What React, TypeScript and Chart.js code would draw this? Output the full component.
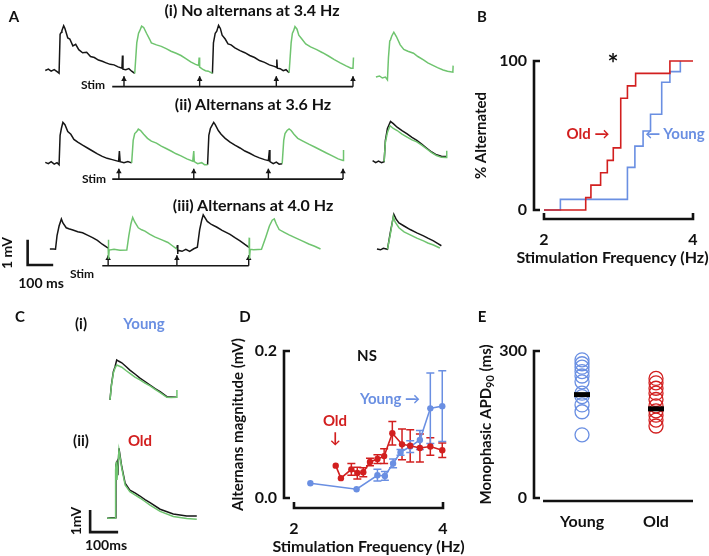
import React, { useEffect, useRef } from "react";
import { Chart, registerables } from "chart.js";
Chart.register(...registerables);

// ---------------- Panel A: monophasic traces (time ms, potential mV) ----------------
const A1_BLACK_1 = [[0,-0.01],[12,0.04],[23,-0.04],[35,0.02],[46,-0.06],[54,-0.12],[58,1.42],[63,1.5],[65,1.56],[72,1.76],[77,1.65],[88,1.27],[96,1.23],[108,0.96],[119,1.02],[131,0.81],[146,0.69],[162,0.71],[177,0.54],[192,0.5],[208,0.4],[223,0.35],[238,0.29],[254,0.23],[269,0.21],[285,0.13],[300,0.08],[302,0.58],[304,0.04],[315,0.02],[327,0.06],[338,-0.04],[350,-0.13]];
const A1_GREEN_1 = [[350,-0.13],[358,1.08],[365,1.46],[369,1.54],[377,1.74],[385,1.69],[396,1.46],[408,1.23],[415,1.08],[435,1.0],[454,0.94],[473,0.85],[492,0.75],[512,0.67],[531,0.58],[550,0.46],[569,0.33],[588,0.23],[600,0.19],[602,0.5],[604,0.12],[615,0.04],[627,-0.02],[638,-0.04],[654,-0.13]];
const A1_BLACK_2 = [[654,-0.13],[658,1.08],[665,1.46],[671,1.54],[678,1.77],[685,1.65],[692,1.38],[704,1.23],[715,1.04],[727,1.0],[742,0.88],[762,0.77],[781,0.69],[800,0.58],[819,0.5],[838,0.38],[858,0.31],[877,0.21],[896,0.15],[904,0.12],[906,0.42],[908,0.08],[919,0.06],[931,-0.02],[942,0.02],[954,-0.1]];
const A1_GREEN_2 = [[954,-0.1],[962,1.08],[967,1.46],[971,1.54],[977,1.72],[985,1.62],[992,1.38],[1004,1.23],[1019,1.04],[1038,0.92],[1062,0.81],[1085,0.69],[1108,0.56],[1131,0.42],[1154,0.29],[1177,0.17],[1196,0.08],[1204,0.08],[1206,0.5]];
const A1_STIM = [308, 604, 904, 1204];
const A1_STIM_START = 262;

const A2_BLACK_1 = [[0,0.01],[12,-0.04],[23,0.04],[35,-0.06],[46,0],[54,-0.08],[58,1.08],[63,1.35],[69,1.59],[77,1.5],[88,1.23],[100,1.12],[112,0.92],[127,0.81],[146,0.69],[165,0.58],[185,0.46],[204,0.35],[223,0.25],[242,0.17],[262,0.12],[287,0.05],[290,0.46],[293,0.04],[308,0],[323,0.04],[338,-0.01]];
const A2_GREEN_1 = [[338,-0.01],[344,0.88],[350,1.15],[358,1.23],[364,1.33],[373,1.27],[385,1.12],[400,0.96],[415,0.85],[435,0.77],[454,0.65],[473,0.56],[492,0.46],[512,0.35],[531,0.27],[554,0.15],[577,0.06],[581,0.46],[583,0.04],[596,-0.04],[612,0],[623,-0.08],[635,-0.08]];
const A2_BLACK_2 = [[635,-0.08],[640,1.08],[646,1.35],[652,1.46],[659,1.59],[665,1.5],[677,1.27],[688,1.12],[704,0.96],[723,0.81],[742,0.69],[762,0.58],[781,0.46],[800,0.37],[819,0.27],[838,0.19],[858,0.12],[873,0.08],[877,0.5],[879,0.04],[892,-0.04],[904,0.02],[915,-0.06],[927,-0.04]];
const A2_GREEN_2 = [[927,-0.04],[933,0.88],[938,1.15],[946,1.27],[954,1.33],[962,1.27],[973,1.12],[988,0.96],[1008,0.85],[1031,0.73],[1054,0.62],[1077,0.5],[1100,0.38],[1123,0.27],[1146,0.15],[1165,0.09],[1167,0.5]];
const A2_STIM = [288, 581, 873, 1165];
const A2_STIM_START = 262;

const A3_BLACK_1 = [[18,0.01],[31,0.01],[40,0],[46,0.54],[54,0.92],[63,1.2],[69,1.04],[82,0.85],[92,0.81],[108,0.76],[127,0.69],[146,0.65],[165,0.56],[185,0.46],[204,0.35],[223,0.2],[246,0.05]];
const A3_GREEN_1 = [[246,0.05],[247,0.38],[248,-0.38],[250,-0.03],[269,0],[292,-0.04],[319,-0.03],[327,0.54],[335,1.0],[342,1.26],[350,1.08],[364,0.85],[377,0.77],[390,0.72],[408,0.6],[428,0.49],[454,0.38],[480,0.27],[496,0.15],[515,0.01]];
const A3_BLACK_2 = [[515,0.01],[517,0.17],[518,-0.19],[519,-0.04],[535,-0.08],[550,0],[565,-0.08],[581,0.02],[595,0.08],[604,0.77],[612,1.15],[618,1.36],[634,1.1],[650,0.98],[672,0.87],[692,0.75],[723,0.59],[742,0.46],[762,0.33],[781,0.19],[797,0.08]];
const A3_GREEN_2 = [[797,0.08],[798,0.46],[799,-0.38],[802,0],[815,-0.02],[832,-0.01],[846,0],[862,0.46],[877,0.92],[888,1.15],[896,1.2],[904,1.0],[915,0.78],[935,0.67],[954,0.57],[977,0.46],[1005,0.33],[1031,0.21],[1054,0.12],[1077,0.01]];
const A3_STIM = [246, 515, 796];
const A3_STIM_START = 223;

// superimposed insets (time relative to inset start)
const IN1_GREEN = [[13,-0.27],[27,-0.23],[38,-0.31],[50,-0.27],[58,-0.38],[62,0.5],[67,1.15],[70,1.2],[75,1.35],[83,1.5],[93,1.33],[108,1.0],[122,0.82],[138,0.75],[160,0.67],[177,0.54],[199,0.41],[216,0.29],[238,0.18],[254,0.1],[276,0.01],[293,-0.04],[314,-0.08],[315,0.18]];
const IN2_BLACK = [[0,0.08],[12,0],[23,0.06],[35,0],[45,0.04],[50,0.88],[58,1.35],[70,1.63],[81,1.54],[96,1.4],[115,1.27],[135,1.14],[154,1.0],[173,0.88],[192,0.73],[212,0.57],[231,0.42],[250,0.31],[269,0.25],[288,0.24]];
const IN2_GREEN = [[45,0.04],[50,0.81],[58,1.19],[68,1.46],[81,1.35],[96,1.27],[115,1.13],[135,1.01],[154,0.9],[173,0.82],[192,0.69],[212,0.54],[231,0.4],[250,0.28],[269,0.21],[288,0.2],[290,0.47]];
const IN3_BLACK = [[17,0.01],[31,-0.02],[42,0.04],[58,0],[69,0.65],[83,1.38],[92,1.19],[103,1.04],[123,0.92],[147,0.78],[173,0.65],[199,0.53],[216,0.44],[238,0.33],[254,0.23],[269,0.14]];
const IN3_GREEN = [[58,0],[69,0.58],[81,1.3],[88,1.08],[103,0.85],[123,0.69],[147,0.57],[173,0.44],[199,0.33],[216,0.25],[238,0.17],[263,0.05]];

// ---------------- Panel C traces ----------------
const C1_BLACK = [[0,-0.09],[5,0.59],[12,1.2],[18,1.42],[24,1.73],[30,1.68],[42,1.6],[57,1.43],[71,1.27],[89,1.09],[107,0.9],[125,0.75],[143,0.59],[161,0.43],[179,0.29],[203,0.06],[218,0.05],[238,0.03]];
const C1_GREEN = [[0,-0.09],[5,0.55],[12,1.14],[18,1.36],[24,1.5],[42,1.4],[57,1.25],[71,1.12],[89,0.95],[107,0.82],[125,0.68],[143,0.55],[161,0.39],[179,0.24],[203,0.03],[218,0.02],[238,0.03],[239,0.36]];
const C2_BLACK = [[-10,-0.01],[4,0.01],[18,0.01],[21,2.41],[25,2.55],[28,1.95],[32,3.17],[42,2.33],[54,1.58],[71,1.27],[89,1.14],[107,1.0],[125,0.84],[143,0.7],[179,0.4],[226,0.18],[274,0.09],[310,0.09]];
const C2_GREEN = [[-10,-0.01],[18,0],[20,2.18],[22,2.55],[25,1.73],[32,3.09],[42,2.27],[54,1.5],[71,1.2],[89,1.05],[107,0.91],[125,0.75],[143,0.59],[179,0.3],[226,0.07],[274,-0.02],[310,-0.06]];

// ---------------- Panel B: cumulative % alternated ----------------
const OLD_STEP_FREQ = [2.0, 2.56, 2.63, 2.76, 2.85, 2.93, 3.03, 3.12, 3.23, 3.69, 4.0];
const OLD_STEP_PCT = [0, 8.3, 16.7, 25, 33.3, 41.7, 75, 83.3, 91.7, 100, 100];
const YOUNG_STEP_FREQ = [2.0, 2.22, 3.12, 3.22, 3.33, 3.43, 3.58, 3.69, 3.83];
const YOUNG_STEP_PCT = [0, 7.1, 28.6, 42.9, 53, 64.3, 85.7, 92.9, 100];

// ---------------- Panel D: alternans magnitude ----------------
const OLD_FREQ = [2.56, 2.63, 2.77, 2.85, 2.93, 3.02, 3.12, 3.21, 3.32, 3.45, 3.56, 3.69, 3.83, 3.99];
const OLD_MAG = [0.044, 0.027, 0.039, 0.034, 0.035, 0.049, 0.053, 0.057, 0.088, 0.073, 0.071, 0.068, 0.070, 0.065];
const OLD_ERR = [0, 0, 0.008, 0.008, 0.006, 0.005, 0.006, 0.010, 0.016, 0.021, 0.022, 0.019, 0.012, 0.010];
const YOUNG_FREQ = [2.22, 2.84, 3.12, 3.22, 3.33, 3.43, 3.56, 3.69, 3.83, 3.99];
const YOUNG_MAG = [0.020, 0.012, 0.031, 0.030, 0.047, 0.062, 0.070, 0.079, 0.122, 0.125];
const YOUNG_ERR = [0, 0, 0.008, 0.006, 0.006, 0.004, 0.008, 0.013, 0.048, 0.048];

// ---------------- Panel E: APD90 ----------------
const GROUPS = ["Young", "Old"];
const YOUNG_APD = [282, 274, 267, 258, 249, 237, 214, 207, 190, 176, 129];
const OLD_APD = [244, 235, 224, 214, 201, 188, 178, 169, 159, 147];
const MEAN_APD = [211, 182];

// ---------------- styling ----------------
const BLACK = "#161616";
const GREEN = "#6fc46f";
const RED = "#d21f1f";
const BLUE = "#6a8fe2";
const FONT = 'Lato, "DejaVu Sans", sans-serif';

const pts = (a: number[][]) => a.map(([x, y]) => ({ x, y }));
const trace = (a: number[][], color: string, xAxisID: string, yAxisID: string) => ({
  type: "line", data: pts(a), borderColor: color, borderWidth: 1.5, pointRadius: 0,
  tension: 0, xAxisID, yAxisID, clip: false,
});

function stimSets(times: number[], start: number, yAxisID: string) {
  const level = -0.65, tip = -0.36;
  const stems: any[] = [];
  times.forEach((t) => { stems.push({ x: t, y: level }, { x: t, y: tip + 0.12 }, { x: t, y: null }); });
  return [
    { type: "line", data: [{ x: start, y: level }, { x: times[times.length - 1], y: level }], borderColor: BLACK, borderWidth: 1.6, pointRadius: 0, xAxisID: "x", yAxisID, clip: false },
    { type: "line", data: stems, borderColor: BLACK, borderWidth: 1.4, pointRadius: 0, spanGaps: false, xAxisID: "x", yAxisID, clip: false },
    { type: "scatter", data: times.map((t) => ({ x: t, y: tip })), pointStyle: "triangle", pointRadius: 3.2, pointBackgroundColor: BLACK, pointBorderColor: BLACK, pointBorderWidth: 0, xAxisID: "x", yAxisID, clip: false },
  ];
}

const base = (extra: any) => ({
  responsive: false, animation: false, events: [], devicePixelRatio: 1,
  plugins: { legend: { display: false }, tooltip: { enabled: false }, ...(extra.plugins || {}) },
  layout: extra.layout || { padding: 0 },
  scales: extra.scales,
});

const bracketAxes = {
  id: "bracketAxes",
  beforeDatasetsDraw(chart: any, _a: any, o: any) {
    if (!o || !o.yTicks) return;
    const { ctx, chartArea: ca } = chart;
    const xs = chart.scales.x, ys = chart.scales.y;
    ctx.save();
    ctx.strokeStyle = "#111"; ctx.fillStyle = "#111"; ctx.lineWidth = 2.6; ctx.lineJoin = "miter";
    const yT = ys.getPixelForValue(o.yTicks[o.yTicks.length - 1]);
    const yB = ys.getPixelForValue(o.yTicks[0]);
    const xl = ca.left;
    ctx.beginPath(); ctx.moveTo(xl + 6, yT); ctx.lineTo(xl, yT); ctx.lineTo(xl, yB); ctx.lineTo(xl + 6, yB); ctx.stroke();
    const x0 = xs.getPixelForValue(o.xLine[0]), x1 = xs.getPixelForValue(o.xLine[1]);
    const yb = ca.bottom;
    ctx.beginPath();
    if (o.xEndTicks) { ctx.moveTo(x0, yb - 6); ctx.lineTo(x0, yb); ctx.lineTo(x1, yb); ctx.lineTo(x1, yb - 6); }
    else { ctx.moveTo(x0, yb); ctx.lineTo(x1, yb); }
    ctx.stroke();
    ctx.font = `700 16px ${FONT}`;
    ctx.textAlign = "right"; ctx.textBaseline = "middle";
    o.yTicks.forEach((v: number, i: number) => ctx.fillText(o.yLabels[i], xl - 7, ys.getPixelForValue(v)));
    ctx.textAlign = "center";
    o.xTicks.forEach((v: number, i: number) => ctx.fillText(o.xLabels[i], xs.getPixelForValue(v), yb + 21));
    ctx.font = `700 16px ${FONT}`;
    if (o.xTitle) ctx.fillText(o.xTitle, (x0 + x1) / 2 + (o.xTitleShift || 0), yb + 39);
    // y title (rotated), optional subscript part
    ctx.save();
    ctx.translate(xl + o.yTitleOffset, (yT + yB) / 2);
    ctx.rotate(-Math.PI / 2);
    const parts = o.yTitle as [string, number][];
    let total = 0;
    parts.forEach(([s, sub]) => { ctx.font = `700 ${sub ? 11 : 15}px ${FONT}`; total += ctx.measureText(s).width; });
    let cx = -total / 2;
    ctx.textAlign = "left";
    parts.forEach(([s, sub]) => {
      ctx.font = `700 ${sub ? 11 : 15}px ${FONT}`;
      ctx.fillText(s, cx, sub ? 4 : 0);
      cx += ctx.measureText(s).width;
    });
    ctx.restore();
    ctx.restore();
  },
};

const errorBars = {
  id: "errorBars",
  beforeDatasetsDraw(chart: any) {
    const { ctx } = chart;
    const ys = chart.scales.y, xs = chart.scales.x;
    ctx.save();
    chart.data.datasets.forEach((ds: any) => {
      if (!ds.errors) return;
      ctx.strokeStyle = ds.borderColor; ctx.lineWidth = 1.5;
      ds.data.forEach((p: any, i: number) => {
        const e = ds.errors[i];
        if (!e) return;
        const x = xs.getPixelForValue(p.x);
        const t = ys.getPixelForValue(p.y + e), b = ys.getPixelForValue(p.y - e);
        ctx.beginPath();
        ctx.moveTo(x, t); ctx.lineTo(x, b);
        ctx.moveTo(x - 4, t); ctx.lineTo(x + 4, t);
        ctx.moveTo(x - 4, b); ctx.lineTo(x + 4, b);
        ctx.stroke();
      });
    });
    ctx.restore();
  },
};

function Label({ x, y, text, color = "#111", size = 15, rot = 0 }: any) {
  return (
    <div style={{ position: "absolute", left: x, top: y, transform: `translate(-50%,-50%) rotate(${rot}deg)`, whiteSpace: "nowrap", font: `700 ${size}px ${FONT}`, color, lineHeight: 1 }}>{text}</div>
  );
}

export default function App() {
  const aRef = useRef<HTMLCanvasElement>(null);
  const bRef = useRef<HTMLCanvasElement>(null);
  const cRef = useRef<HTMLCanvasElement>(null);
  const dRef = useRef<HTMLCanvasElement>(null);
  const eRef = useRef<HTMLCanvasElement>(null);

  useEffect(() => {
    const charts: Chart[] = [];
    // ---------- A ----------
    const aSets: any[] = [
      trace(A1_GREEN_1, GREEN, "x", "y1"), trace(A1_GREEN_2, GREEN, "x", "y1"),
      trace(A1_BLACK_1, BLACK, "x", "y1"), trace(A1_BLACK_2, BLACK, "x", "y1"),
      trace(A2_GREEN_1, GREEN, "x", "y2"), trace(A2_GREEN_2, GREEN, "x", "y2"),
      trace(A2_BLACK_1, BLACK, "x", "y2"), trace(A2_BLACK_2, BLACK, "x", "y2"),
      trace(A3_GREEN_1, GREEN, "x", "y3"), trace(A3_GREEN_2, GREEN, "x", "y3"),
      trace(A3_BLACK_1, BLACK, "x", "y3"), trace(A3_BLACK_2, BLACK, "x", "y3"),
      trace(IN1_GREEN, GREEN, "xi", "y1"),
      trace(IN2_GREEN, GREEN, "xi", "y2"), trace(IN2_BLACK, BLACK, "xi", "y2"),
      trace(IN3_GREEN, GREEN, "xi", "y3"), trace(IN3_BLACK, BLACK, "xi", "y3"),
      ...stimSets(A1_STIM, A1_STIM_START, "y1"),
      ...stimSets(A2_STIM, A2_STIM_START, "y2"),
      ...stimSets(A3_STIM, A3_STIM_START, "y3"),
      { type: "line", data: [{ x: -69, y: 0.38 }, { x: -69, y: -0.62 }, { x: -69 + 100, y: -0.62 }], borderColor: BLACK, borderWidth: 2.6, pointRadius: 0, xAxisID: "x", yAxisID: "y3", clip: false, borderJoinStyle: "miter" },
    ];
    const hid = (min: number, max: number) => ({ type: "linear", display: false, min, max });
    charts.push(new Chart(aRef.current!, {
      type: "line", data: { datasets: aSets },
      options: base({ scales: {
        x: hid(-161.5, 1646.2), xi: hid(-1442.3, 365.4),
        y1: hid(-8.923, 2.615), y2: hid(-5.269, 6.269), y3: hid(-1.846, 9.692),
      } }) as any,
    }));

    // ---------- C ----------
    charts.push(new Chart(cRef.current!, {
      type: "line",
      data: { datasets: [
        trace(C1_GREEN, GREEN, "x", "yi"), trace(C1_BLACK, BLACK, "x", "yi"),
        trace(C2_GREEN, GREEN, "x", "yii"), trace(C2_BLACK, BLACK, "x", "yii"),
        { type: "line", data: [{ x: -71, y: 0.36 }, { x: -71, y: -0.64 }, { x: -71 + 100, y: -0.64 }], borderColor: BLACK, borderWidth: 2.6, pointRadius: 0, xAxisID: "x", yAxisID: "yii", clip: false, borderJoinStyle: "miter" },
      ] as any },
      options: base({ scales: { x: hid(-178.6, 428.6), yi: hid(-7.182, 4.909), yii: hid(-1.727, 10.364) } }) as any,
    }));

    // ---------- B ----------
    charts.push(new Chart(bRef.current!, {
      type: "line",
      data: { datasets: [
        { data: OLD_STEP_FREQ.map((f, i) => ({ x: f, y: OLD_STEP_PCT[i] })), borderColor: RED, borderWidth: 1.6, pointRadius: 0, stepped: "before", clip: false },
        { data: YOUNG_STEP_FREQ.map((f, i) => ({ x: f, y: YOUNG_STEP_PCT[i] })), borderColor: BLUE, borderWidth: 1.6, pointRadius: 0, stepped: "before", clip: false },
      ] as any },
      plugins: [bracketAxes],
      options: base({
        layout: { padding: { left: 74, top: 31, right: 16, bottom: 56 } },
        scales: { x: { type: "linear", display: false, min: 1.866, max: 4 }, y: { type: "linear", display: false, min: -6.04, max: 100 } },
        plugins: { bracketAxes: { yTicks: [0, 100], yLabels: ["0", "100"], xTicks: [2, 4], xLabels: ["2", "4"], xLine: [2, 4], xEndTicks: true, xTitle: "Stimulation Frequency (Hz)", xTitleShift: -6, yTitle: [["% Alternated", 0]], yTitleOffset: -53 } },
      }) as any,
    }));

    // ---------- D ----------
    charts.push(new Chart(dRef.current!, {
      type: "line",
      data: { datasets: [
        { data: OLD_FREQ.map((f, i) => ({ x: f, y: OLD_MAG[i] })), errors: OLD_ERR, borderColor: RED, backgroundColor: RED, borderWidth: 1.6, pointRadius: 3.2, pointBorderWidth: 0, pointBackgroundColor: RED, clip: false },
        { data: YOUNG_FREQ.map((f, i) => ({ x: f, y: YOUNG_MAG[i] })), errors: YOUNG_ERR, borderColor: BLUE, backgroundColor: BLUE, borderWidth: 1.6, pointRadius: 3.2, pointBorderWidth: 0, pointBackgroundColor: BLUE, clip: false },
      ] as any },
      plugins: [bracketAxes, errorBars],
      options: base({
        layout: { padding: { left: 54, top: 61, right: 37, bottom: 48 } },
        scales: { x: { type: "linear", display: false, min: 1.866, max: 4 }, y: { type: "linear", display: false, min: -0.0136, max: 0.2 } },
        plugins: { bracketAxes: { yTicks: [0, 0.2], yLabels: ["0.0", "0.2"], xTicks: [2, 4], xLabels: ["2", "4"], xLine: [2, 4], xEndTicks: true, xTitle: "Stimulation Frequency (Hz)", yTitle: [["Alternans magnitude (mV)", 0]], yTitleOffset: -46 } },
      }) as any,
    }));

    // ---------- E ----------
    charts.push(new Chart(eRef.current!, {
      type: "scatter",
      data: { datasets: [
        { data: MEAN_APD.map((m, i) => ({ x: i + 1, y: m })), pointStyle: "line", pointRadius: 8, pointBorderWidth: 5, borderColor: "#000", pointBorderColor: "#000", clip: false },
        { data: YOUNG_APD.map((v) => ({ x: 1, y: v })), pointRadius: 7, pointBorderWidth: 1.3, pointBorderColor: BLUE, pointBackgroundColor: "rgba(0,0,0,0)", clip: false },
        { data: OLD_APD.map((v) => ({ x: 2, y: v })), pointRadius: 7, pointBorderWidth: 1.3, pointBorderColor: RED, pointBackgroundColor: "rgba(0,0,0,0)", clip: false },
      ] as any },
      plugins: [bracketAxes],
      options: base({
        layout: { padding: { left: 74, top: 61, right: 16, bottom: 55 } },
        scales: { x: { type: "linear", display: false, min: 0.351, max: 2.5 }, y: { type: "linear", display: false, min: -6.1, max: 300 } },
        plugins: { bracketAxes: { yTicks: [0, 300], yLabels: ["0", "300"], xTicks: [1, 2], xLabels: GROUPS, xLine: [0.473, 2.5], xEndTicks: false, xTitle: "", yTitle: [["Monophasic APD", 0], ["90", 1], [" (ms)", 0]], yTitleOffset: -48 } },
      }) as any,
    }));

    return () => charts.forEach((c) => c.destroy());
  }, []);

  const cv = (l: number, t: number) => ({ position: "absolute" as const, left: l, top: t });
  return (
    <div style={{ position: "absolute", left: 0, top: 0, width: 709, height: 556, background: "#fff", overflow: "hidden" }}>
      <canvas ref={aRef} width={470} height={300} style={cv(0, 0)} />
      <canvas ref={cRef} width={170} height={266} style={cv(60, 290)} />
      <canvas ref={dRef} width={250} height={266} style={cv(230, 290)} />
      <canvas ref={bRef} width={249} height={245} style={cv(460, 30)} />
      <canvas ref={eRef} width={249} height={266} style={cv(460, 290)} />

      <Label x={14} y={16} text="A" />
      <Label x={252} y={10} text="(i) No alternans at 3.4 Hz" size={16} />
      <Label x={253} y={104} text="(ii) Alternans at 3.6 Hz" size={16} />
      <Label x={253} y={205} text="(iii) Alternans at 4.0 Hz" size={16} />
      <Label x={93} y={85} text="Stim" size={12} />
      <Label x={94} y={179} text="Stim" size={12} />
      <Label x={82} y={274} text="Stim" size={12} />
      <Label x={7} y={253} text="1 mV" size={14} rot={-90} />
      <Label x={41} y={283} text="100 ms" size={14} />

      <Label x={482} y={16} text="B" />
      <Label x={613} y={63} text="*" size={26} />
      <Label x={588} y={133} text="Old →" color={RED} />
      <Label x={675} y={133} text="← Young" color={BLUE} />

      <Label x={20} y={316} text="C" />
      <Label x={81} y={323} text="(i)" />
      <Label x={144} y={323} text="Young" color={BLUE} />
      <Label x={81} y={440} text="(ii)" />
      <Label x={140} y={440} text="Old" color={RED} />
      <Label x={76} y={521} text="1mV" size={14} rot={-90} />
      <Label x={106} y={545} text="100ms" size={14} />

      <Label x={245} y={316} text="D" />
      <Label x={367} y={355} text="NS" />
      <Label x={390} y={398} text="Young →" color={BLUE} />
      <Label x={335} y={420} text="Old" color={RED} />
      <Label x={335} y={437} text="↓" color={RED} size={15} />

      <Label x={482} y={316} text="E" />
    </div>
  );
}
